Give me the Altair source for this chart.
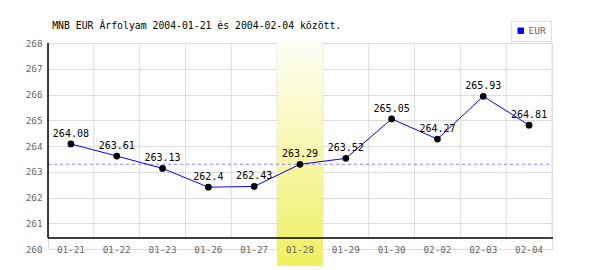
import altair as alt
import pandas as pd

# ---- data ----
dates = ["01-21", "01-22", "01-23", "01-26", "01-27", "01-28",
         "01-29", "01-30", "02-02", "02-03", "02-04"]
rates = [264.08, 263.61, 263.13, 262.4, 262.43, 263.29,
         263.52, 265.05, 264.27, 265.93, 264.81]
series = "EUR"
highlight_date = "01-28"
title_text = "MNB EUR Árfolyam 2004-01-21 és 2004-02-04 között."
y_ticks = [260, 261, 262, 263, 264, 265, 266, 267, 268]

df = pd.DataFrame({"date": dates, "rate": rates, "series": [series] * len(dates)})
one = pd.DataFrame({"k": [0]})

W, H = 504, 206
MONO = "DejaVu Sans Mono"
Y_LO, Y_HI = y_ticks[0], y_ticks[-1]
AXIS_BASE = 260.427   # where the black x-axis line sits
HL_TOP, HL_BOT = 268.5, 259.34

xscale = alt.Scale(domain=dates, paddingInner=0, paddingOuter=0)
yscale = alt.Scale(domain=[Y_LO, Y_HI], nice=False, zero=False)

x_axis = alt.Axis(title=None, domain=False, ticks=False, grid=False,
                  labelFont=MONO, labelFontSize=9.3, labelColor="#666666",
                  labelPadding=0, labelBaseline="middle", labelAngle=0,
                  labelOverlap=False, zindex=1)
y_axis = alt.Axis(title=None, domain=False, ticks=False, grid=True,
                  gridColor="#dddddd", values=y_ticks, format="d",
                  labelFont=MONO, labelFontSize=9.3, labelColor="#666666",
                  labelPadding=6, labelOverlap=False)


def Y(field):
    return alt.Y(field, scale=yscale, axis=y_axis)


def YD(v):
    return alt.YDatum(v, scale=yscale, axis=y_axis)


def X(**kw):
    return alt.X("date:N", scale=xscale, axis=x_axis, **kw)


base = alt.Chart(df)

vgrid = base.mark_rule(color="#dddddd", strokeWidth=1).encode(
    x=X(bandPosition=1),
    y=YD(Y_HI),
    y2=alt.datum(AXIS_BASE),
)

grad = alt.Gradient(
    gradient="linear",
    stops=[alt.GradientStop(color="#ffffff", offset=0),
           alt.GradientStop(color="#efef60", offset=1)],
    x1=0, x2=0, y1=0, y2=1,
)
highlight = base.transform_filter(
    alt.datum.date == highlight_date
).mark_rect(color=grad).encode(
    x=X(),
    y=YD(HL_TOP),
    y2=alt.datum(HL_BOT),
)

refline = base.transform_filter(
    alt.datum.date == highlight_date
).mark_rule(color="#8888ff", strokeDash=[3, 3], strokeWidth=1).encode(
    y=Y("rate:Q"),
    x=alt.value(0),
    x2=alt.value(W),
)

yline = alt.Chart(one).mark_rule(color="black", strokeWidth=1.5).encode(
    x=alt.value(0), y=YD(Y_HI), y2=alt.datum(AXIS_BASE)
)
xline = alt.Chart(one).mark_rule(color="black", strokeWidth=1.5).encode(
    y=YD(AXIS_BASE), x=alt.value(0), x2=alt.value(W + 1)
)

line = base.mark_line(strokeWidth=1).encode(
    x=X(),
    y=Y("rate:Q"),
    color=alt.Color(
        "series:N",
        scale=alt.Scale(domain=[series], range=["#0000ff"]),
        legend=alt.Legend(
            title=None, orient="none", legendX=463, legendY=-22,
            symbolType="square", symbolSize=30, symbolFillColor="#0000ff",
            symbolStrokeColor="#000080", symbolStrokeWidth=1,
            labelFont=MONO, labelFontSize=9.5, labelColor="#666666",
            labelOffset=3, strokeColor="#dddddd", fillColor="white",
            padding=5, cornerRadius=0,
        ),
    ),
)

points = base.mark_circle(color="black", opacity=1, size=45).encode(
    x=X(),
    y=Y("rate:Q"),
)

labels = base.mark_text(font=MONO, fontSize=10, color="black",
                        baseline="middle", dy=-10).encode(
    x=X(),
    y=Y("rate:Q"),
    text=alt.Text("rate:Q"),
)

chart = alt.layer(
    vgrid, highlight, refline, yline, xline, line, points, labels
).properties(
    width=W, height=H,
    title=alt.TitleParams(title_text, anchor="start", font=MONO, fontSize=9.8,
                          fontWeight="normal", color="black", dx=27, dy=22.6,
                          offset=12),
    autosize=alt.AutoSizeParams(type="none"),
    padding={"left": 48, "top": 43, "right": 48, "bottom": 21},
).configure_view(stroke=None).configure(background="white")

chart.save("out.html", embed_options={"renderer": "svg", "actions": False})
